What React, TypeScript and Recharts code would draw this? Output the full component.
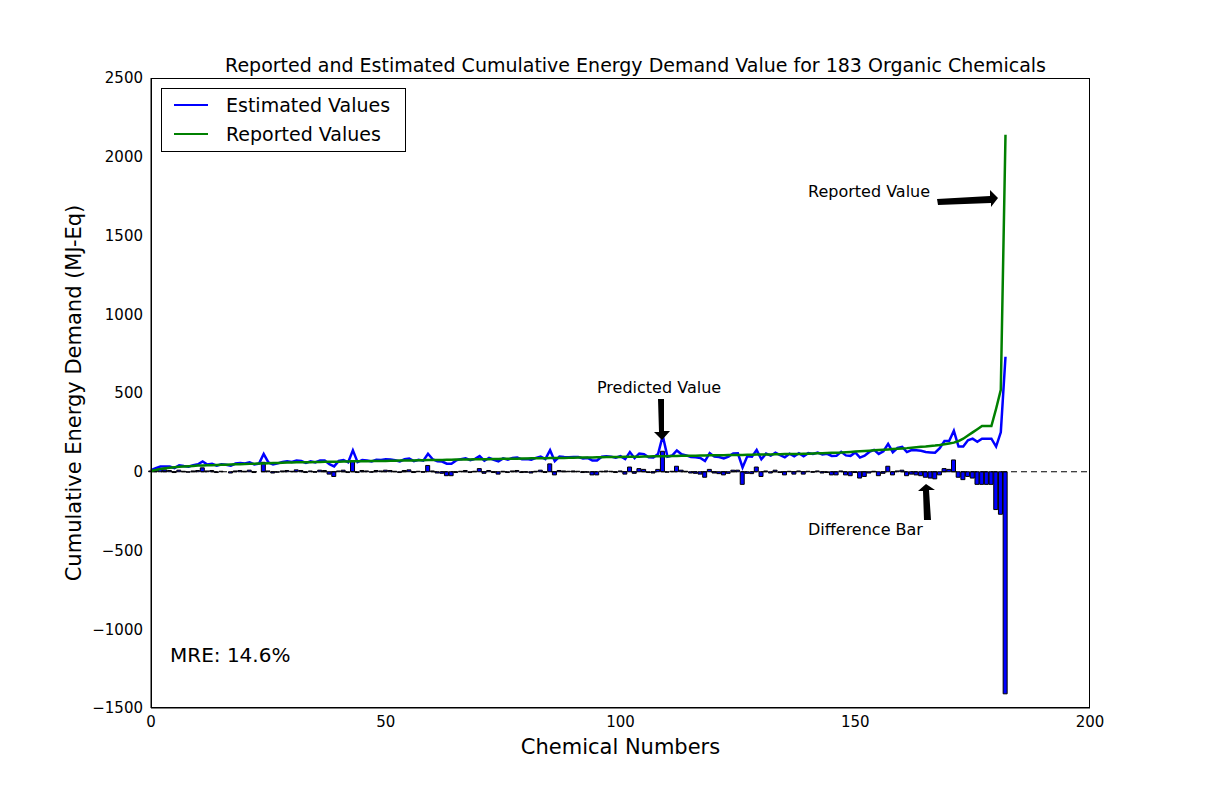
import React from "react";
import { Bar, ComposedChart, Line, XAxis, YAxis, ReferenceLine } from "recharts";

const reported = [
  5, 12, 18, 22, 25, 28, 31, 33, 35, 37,
  39, 40, 41, 42, 43, 44, 45, 46, 47, 48,
  49, 50, 51, 52, 53, 54, 55, 56, 57, 58,
  59, 60, 60, 61, 61, 62, 62, 63, 63, 64,
  64, 65, 65, 66, 66, 67, 67, 68, 68, 69,
  69, 70, 70, 71, 71, 72, 72, 73, 73, 74,
  74, 75, 75, 76, 76, 77, 77, 78, 78, 79,
  79, 80, 80, 81, 81, 82, 82, 83, 83, 84,
  84, 85, 85, 86, 86, 87, 87, 88, 88, 89,
  89, 90, 90, 91, 91, 92, 92, 93, 93, 94,
  94, 95, 95, 96, 96, 97, 97, 98, 98, 99,
  99, 100, 100, 101, 101, 102, 102, 103, 103, 104,
  104, 105, 105, 106, 106, 107, 107, 108, 108, 109,
  109, 110, 110, 111, 111, 112, 112, 113, 113, 114,
  115, 116, 117, 118, 119, 120, 121, 122, 124, 126,
  128, 130, 132, 134, 136, 138, 140, 142, 144, 146,
  148, 150, 153, 156, 158, 160, 163, 166, 170, 175,
  180, 185, 195, 210, 230, 250, 270, 290, 290, 290,
  400, 520, 2140,
];

// estimated minus reported
const difference = [
  5, 10, 15, 12, 8, -5, 10, 3, -3, 5,
  8, 25, 5, 8, -5, 3, 0, -8, 5, 8,
  3, 10, -5, 0, 60, 5, -8, -3, 5, 8,
  3, 12, 8, -5, 5, -3, 10, 8, -15, -30,
  5, 10, -5, 70, -5, 8, 5, -3, 8, 5,
  10, 8, 3, -5, 8, 12, -5, 3, -3, 40,
  5, -8, -10, -25, -25, -5, 3, 8, -5, 3,
  20, -10, 8, -5, -15, 3, -5, 5, 8, -5,
  -3, -8, 3, 10, -5, 50, -20, 8, 5, 3,
  5, 3, -5, -3, -20, -20, 3, 5, 3, -5,
  5, -15, 30, -10, 20, 15, -5, -8, 15, 130,
  -3, 3, 35, 10, 3, -8, -10, -15, -35, 15,
  -8, -12, -20, -10, 10, 10, -80, -10, -12, 30,
  -30, 5, -8, 10, -5, -20, 3, -15, 5, -15,
  3, -3, 5, -8, -5, -20, -20, 5, -20, -25,
  -5, -40, -30, -8, 3, -25, -10, 35, -20, 5,
  10, -25, -15, -20, -25, -35, -40, -45, -20, 20,
  15, 75, -35, -50, -30, -40, -80, -80, -80, -80,
  -240, -270, -1410,
];

const xTicks = [0, 50, 100, 150, 200];
const yTicks = [-1500, -1000, -500, 0, 500, 1000, 1500, 2000, 2500];

const data = reported.map((r, i) => ({
  n: i,
  reported: r,
  diff: difference[i],
  estimated: r + difference[i],
}));

const font = "'DejaVu Sans', sans-serif";
const fmt = (v: number) => (v < 0 ? `\u2212${-v}` : `${v}`);

// plot area in page pixels
const L = 151, T = 78, R = 1090, B = 708;

export default function App() {
  return (
    <div style={{ position: "absolute", left: 0, top: 0, width: 1211, height: 787, background: "#fff", fontFamily: font }}>
      <ComposedChart
        width={1211}
        height={787}
        data={data}
        margin={{ top: T, right: 1211 - R, left: L - 60, bottom: 787 - B - 30 }}
      >
        <XAxis dataKey="n" type="number" domain={[0, 200]} ticks={xTicks} height={30}
          tick={{ fill: "#000", fontSize: 15, fontFamily: font }} tickLine={false}
          axisLine={{ stroke: "#000" }} />
        <YAxis type="number" domain={[-1500, 2500]} ticks={yTicks} width={60} tickFormatter={fmt}
          tick={{ fill: "#000", fontSize: 15, fontFamily: font }} tickLine={false}
          axisLine={{ stroke: "#000" }} />
        <ReferenceLine y={0} stroke="#000" strokeDasharray="6 4" />
        <Bar dataKey="diff" fill="#0000ff" stroke="#000" strokeWidth={1} barSize={4} isAnimationActive={false} />
        <Line dataKey="estimated" stroke="#0000ff" strokeWidth={2.5} dot={false} isAnimationActive={false} />
        <Line dataKey="reported" stroke="#008000" strokeWidth={2.5} dot={false} isAnimationActive={false} />
      </ComposedChart>

      <div style={{ position: "absolute", left: L, top: T, width: R - L, height: B - T, border: "1px solid #000", boxSizing: "border-box", pointerEvents: "none" }} />

      <div style={{ position: "absolute", left: 0, width: 1211, top: 54, textAlign: "center", fontSize: 19, paddingLeft: 30 }}>
        Reported and Estimated Cumulative Energy Demand Value for 183 Organic Chemicals
      </div>
      <div style={{ position: "absolute", left: L, width: R - L, top: 735, textAlign: "center", fontSize: 21 }}>Chemical Numbers</div>
      <div style={{ position: "absolute", left: 74, top: (T + B) / 2, transform: "translate(-50%, -50%) rotate(-90deg)", fontSize: 21, whiteSpace: "nowrap" }}>
        Cumulative Energy Demand (MJ-Eq)
      </div>

      <div style={{ position: "absolute", left: 161, top: 88, width: 245, height: 64, border: "1px solid #000", boxSizing: "border-box", background: "#fff", fontSize: 19 }}>
        {[["#0000ff", "Estimated Values"], ["#008000", "Reported Values"]].map(([c, t], i) => (
          <div key={t} style={{ position: "absolute", left: 12, top: 5 + i * 29, display: "flex", alignItems: "center" }}>
            <div style={{ width: 34, height: 2.5, background: c, marginRight: 18 }} />
            <span>{t}</span>
          </div>
        ))}
      </div>

      <div style={{ position: "absolute", left: 170, top: 643, fontSize: 20 }}>MRE: 14.6%</div>
      <div style={{ position: "absolute", left: 808, top: 182, fontSize: 16 }}>Reported Value</div>
      <div style={{ position: "absolute", left: 597, top: 378, fontSize: 16 }}>Predicted Value</div>
      <div style={{ position: "absolute", left: 808, top: 520, fontSize: 16 }}>Difference Bar</div>

      <svg width={1211} height={787} style={{ position: "absolute", left: 0, top: 0, pointerEvents: "none" }}>
        <polygon points="937,199 990,196 990,190 998,198 991,207 991,203 938,205" fill="#000" />
        <polygon points="658,399 664,399 664,431 670,431 662,440 654,432 659,432" fill="#000" />
        <polygon points="924,520 931,520 929,490 935,490 926,484 918,491 923,491" fill="#000" />
      </svg>
    </div>
  );
}
